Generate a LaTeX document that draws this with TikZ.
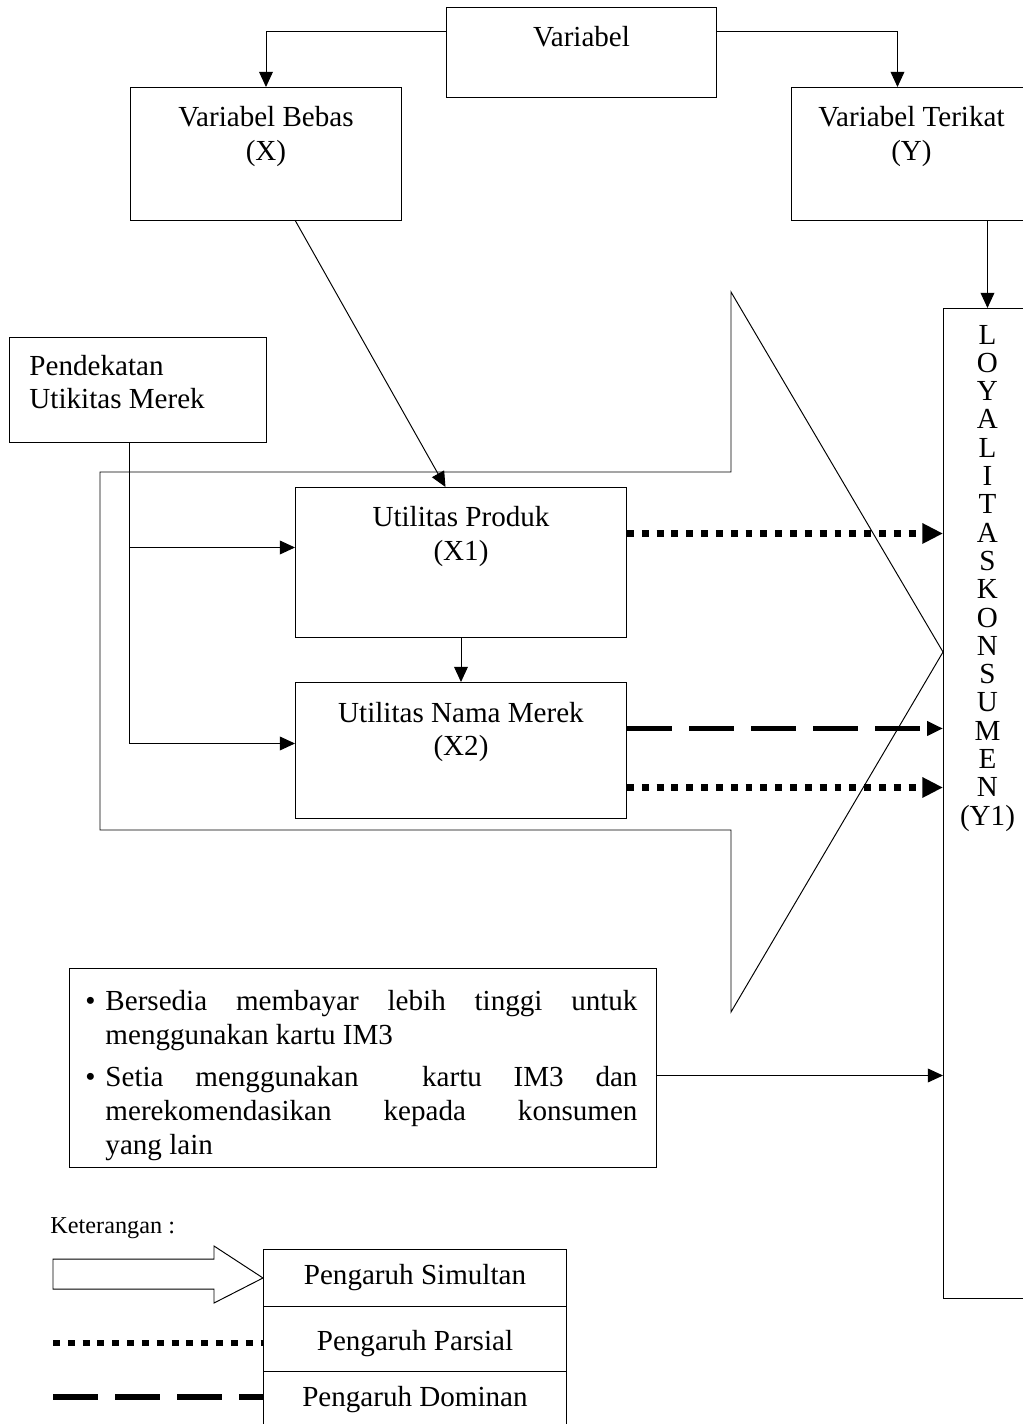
\documentclass[tikz,border=0pt]{standalone}
\usepackage{fontspec}
\setmainfont{Liberation Serif}
\usetikzlibrary{calc, arrows.meta, positioning}
\newlength\px
\setlength\px{0.145mm}
\newcommand\boxtext[3]{\parbox[c][#2\px][t]{#1\px}{\centering\vspace*{6.5pt}\strut #3}}
\newcommand\legtext[2]{\parbox[c][#1\px][c]{303\px}{\centering #2}}
\newcommand\butir{\noindent\llap{\textbullet\hspace{10\px}}\strut}

\begin{document}
\begin{tikzpicture}[x=0.145mm, y=-0.145mm]
\tikzset{
  box/.style={draw, inner sep=0pt, anchor=north west, font=\fontsize{12}{14}\selectfont},
  link/.style={-{Triangle[length=2.2mm, width=2mm]}},
  parsial/.style={line width=0.95mm, dash pattern=on 1mm off 1.15mm},
  dominan/.style={line width=0.8mm, dash pattern=on 6.5mm off 2.5mm},
}
  \useasboundingbox (0,0) rectangle (1022,1424);

  % Top row: variabel
  \node[box] (var) at (446,7) {\boxtext{270}{90}{Variabel}};
  \node[box] (bebas) at (130,87) {\boxtext{271}{133}{Variabel Bebas\\(X)}};
  \node[box] (terikat) at (791,87) {\boxtext{240}{133}{Variabel Terikat\\(Y)}};

  % Left side
  \node[box] (pend) at (9,337)
    {\parbox[c][105\px][t]{257\px}{\raggedright\leftskip=20\px\vspace*{5.7pt}\strut Pendekatan\\Utikitas Merek}};
  \node[box] (produk) at (295,487) {\boxtext{331}{150}{Utilitas Produk\\(X1)}};
  \node[box] (merek) at (295,682) {\boxtext{331}{136}{Utilitas Nama Merek\\(X2)}};

  % Right column: Y1
  \node[box] (loyal) at (943,308)
    {\parbox[c][990\px][t]{88\px}{\centering\fontsize{12}{28.3\px}\selectfont\vspace*{6.8pt}%
      L\\O\\Y\\A\\L\\I\\T\\A\\S\\K\\O\\N\\S\\U\\M\\E\\N\\(Y1)}};

  % Simultaneous effect (big outline arrow)
  \draw (100,472) -- (731,472) -- (731,292) -- (943,652) -- (731,1012)
    -- (731,830) -- (100,830) -- cycle;

  % Indicators
  \node[box] (ciri) at (69,968)
    {\parbox[c][199\px][t]{587\px}{\parskip=0pt\leftskip=36\px\rightskip=19\px\vspace*{7.4pt}%
      \butir Bersedia membayar lebih tinggi untuk\linebreak menggunakan kartu IM3\par
      \vspace{3.5pt}%
      \butir Setia menggunakan\ \ kartu IM3 dan\linebreak merekomendasikan kepada konsumen\linebreak yang lain\par}};

  % Connectors
  \draw[link] ($(var.west)+(0,-21)$) -| (bebas.north);
  \draw[link] ($(var.east)+(0,-21)$) -| ($(terikat.north)+(-14,0)$);
  \draw[link] (terikat.south -| loyal.north) -- (loyal.north);
  \draw[link] ($(bebas.south)+(29.5,0)$) -- ($(produk.north)+(-15.5,0)$);
  \draw[link] (produk) -- (merek);
  \coordinate (pj) at ($(pend.south)+(-8.5,0)$);
  \draw[link] (pj) |- ($(produk.west)+(0,-15)$);
  \draw[link] (pj) |- ($(merek.west)+(0,-7)$);

  % Partial and dominant effects
  \coordinate (p1) at ($(produk.east)+(0,-29)$);
  \coordinate (p2) at ($(merek.east)+(0,-22)$);
  \coordinate (p3) at ($(merek.east)+(0,37)$);
  \draw[parsial, -{Triangle[length=3mm, width=2.8mm]}] (p1) -- (p1 -| loyal.west);
  \draw[dominan, -{Triangle[length=2.3mm, width=2mm]}] (p2) -- (p2 -| loyal.west);
  \draw[parsial, -{Triangle[length=3mm, width=2.8mm]}] (p3) -- (p3 -| loyal.west);
  \coordinate (c1) at ($(ciri.east)+(0,7.5)$);
  \draw[link] (c1) -- (c1 -| loyal.west);

  % Legend
  \node[anchor=west, inner sep=0pt, font=\fontsize{10}{12}\selectfont] (ket) at (50,1228) {Keterangan :};
  \node[box] (simul) at (263,1249) {\legtext{57}{Pengaruh Simultan}};
  \node[box] (parsial) at (263,1306) {\legtext{65}{\vspace*{9\px}Pengaruh Parsial}};
  \node[box] (dominan) at (263,1371) {\legtext{57}{Pengaruh Dominan}};
  \draw (53,1259) -- (214,1259) -- (214,1246) -- (simul.west) -- (214,1303)
    -- (214,1289) -- (53,1289) -- cycle;
  \draw[parsial] (53,1343) -- (parsial.west |- 53,1343);
  \draw[dominan] (53,1397) -- (dominan.west |- 53,1397);
\end{tikzpicture}
\end{document}
